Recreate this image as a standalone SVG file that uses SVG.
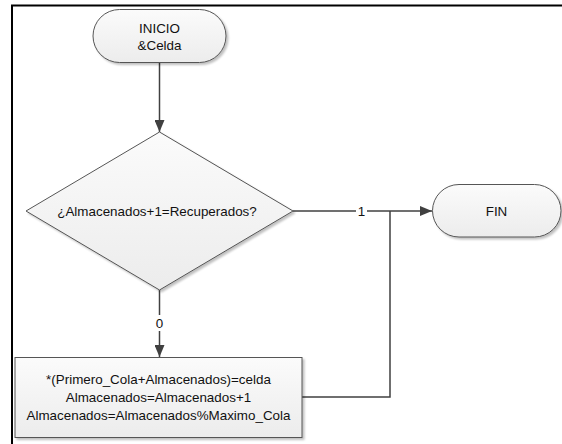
<svg xmlns="http://www.w3.org/2000/svg" width="562" height="444" viewBox="0 0 562 444">
  <defs>
    <linearGradient id="nodeFill" x1="0" y1="0" x2="0" y2="1">
      <stop offset="0" stop-color="#fbfbfb"/>
      <stop offset="1" stop-color="#ececec"/>
    </linearGradient>
    <filter id="shadow" x="-10%" y="-10%" width="130%" height="130%">
      <feGaussianBlur in="SourceAlpha" stdDeviation="1.2"/>
      <feOffset dx="1.5" dy="1.5" result="b"/>
      <feComponentTransfer><feFuncA type="linear" slope="0.25"/></feComponentTransfer>
      <feMerge><feMergeNode/><feMergeNode in="SourceGraphic"/></feMerge>
    </filter>
    <marker id="arrow" viewBox="0 0 12 10" refX="12" refY="5" markerWidth="12" markerHeight="10" markerUnits="userSpaceOnUse" orient="auto">
      <path d="M0,0 L12,5 L0,10 z" fill="#404040"/>
    </marker>
  </defs>
  <style>
    .shape { fill: url(#nodeFill); stroke: #555555; stroke-width: 1; filter: url(#shadow); }
    .label { font-family: "Liberation Sans", Arial, sans-serif; font-size: 13.4px; fill: #111111; text-anchor: middle; }
    .conn { fill: none; stroke: #404040; stroke-width: 1.5; }
    .edgeLabel { font-family: "Liberation Sans", Arial, sans-serif; font-size: 13.4px; fill: #111111; text-anchor: middle; }
  </style>

  <rect width="562" height="444" fill="#ffffff"/>
  <!-- page frame -->
  <path d="M12,444 V5.5 H562" fill="none" stroke="#000000" stroke-width="2"/>

  <g id="connectors">
    <line class="conn" x1="159.5" y1="63" x2="159.5" y2="132" marker-end="url(#arrow)"/>
    <path class="conn" d="M293,211 H432" marker-end="url(#arrow)"/>
    <path class="conn" d="M159.5,290 V357" marker-end="url(#arrow)"/>
    <path class="conn" d="M302,397 H390 V211"/>
    <rect x="356" y="203" width="11" height="16" fill="#ffffff"/>
    <text class="edgeLabel" x="361.5" y="215.5">1</text>
    <rect x="153" y="315" width="13" height="16" fill="#ffffff"/>
    <text class="edgeLabel" x="159.5" y="328">0</text>
  </g>

  <g id="inicio">
    <rect class="shape" x="93" y="9.5" width="133" height="53" rx="26.5" ry="26.5"/>
    <text class="label" x="159.5" y="32.5">INICIO</text>
    <text class="label" x="159.5" y="49.5">&amp;Celda</text>
  </g>

  <g id="decision">
    <polygon class="shape" points="159.5,132 293,211 159.5,290 26,211"/>
    <text class="label" x="157" y="215.5">¿Almacenados+1=Recuperados?</text>
  </g>

  <g id="fin">
    <rect class="shape" x="432.5" y="184.5" width="128.5" height="52.5" rx="26.5" ry="26.5"/>
    <text class="label" x="496.5" y="215.5">FIN</text>
  </g>

  <g id="store">
    <rect class="shape" x="15" y="357.5" width="287" height="80"/>
    <text class="label" x="158.5" y="383.5">*(Primero_Cola+Almacenados)=celda</text>
    <text class="label" x="158.5" y="401.5">Almacenados=Almacenados+1</text>
    <text class="label" x="158.5" y="419.5">Almacenados=Almacenados%Maximo_Cola</text>
  </g>
</svg>
